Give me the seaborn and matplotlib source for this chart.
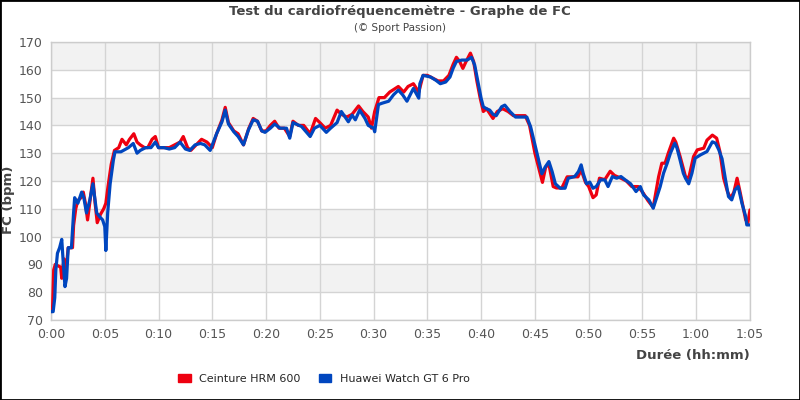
import seaborn as sns
import matplotlib.pyplot as plt
import matplotlib.patches as mpatches
import pandas as pd

# minutes since start, heart rate (bpm)
hrm_t = [0.0, 0.15, 0.25, 0.4, 0.9, 1.0, 1.2, 1.4, 1.6, 2.0, 2.1, 2.3, 2.5, 2.8, 3.0, 3.2, 3.4, 3.6, 3.9, 4.1,
         4.3, 4.6, 4.9, 5.1, 5.3, 5.6, 5.9, 6.3, 6.6, 7.0, 7.3, 7.7, 8.0, 8.3, 8.7, 9.0, 9.4, 9.7, 10.0, 10.5,
         11.0, 11.5, 12.0, 12.3, 12.7, 13.0, 13.5, 14.0, 14.5, 15.0, 15.4, 15.9, 16.2, 16.5, 17.0, 17.4, 17.9,
         18.4, 18.8, 19.2, 19.6, 20.0, 20.4, 20.8, 21.2, 21.7, 22.2, 22.5, 23.0, 23.5, 24.1, 24.6, 25.0, 25.5,
         26.0, 26.6, 27.0, 27.5, 28.0, 28.6, 29.0, 29.5, 29.8, 30.1, 30.5, 31.0, 31.5, 31.9, 32.3, 32.8, 33.2,
         33.7, 34.2, 34.6, 35.0, 35.5, 36.0, 36.5, 37.0, 37.4, 37.7, 38.0, 38.3, 38.6, 39.0, 39.3, 39.6, 39.9,
         40.2, 40.5, 41.1, 41.5, 42.0, 42.5, 43.0, 43.5, 44.1, 44.5, 45.0, 45.4, 45.7, 46.0, 46.3, 46.7, 47.0,
         47.5, 48.0, 48.5, 49.0, 49.3, 49.7, 50.0, 50.4, 50.7, 51.0, 51.5, 52.0, 52.4, 53.0, 53.5, 54.0, 54.6,
         55.1, 55.5, 56.0, 56.5, 56.8, 57.1, 57.4, 57.9, 58.1, 58.5, 59.0, 59.3, 59.75, 60.1, 60.7, 61.0, 61.5,
         61.9, 62.2, 62.55, 62.9, 63.2, 63.5, 63.8, 64.1, 64.6, 64.8, 65.0]
hrm_bpm = [73, 75, 88, 90, 89, 85, 92, 88, 96, 96, 104, 110, 113, 114, 116, 112, 106, 112, 121, 112,
           105, 108, 110, 112, 118, 126, 131, 132, 135, 133, 135, 137, 134, 133, 132, 132, 135, 136, 132, 132,
           132, 133, 134, 136, 132, 131, 133, 135, 134, 132, 137, 142, 146.5, 141, 138, 137, 133,
           139, 142.5, 141.5, 138, 138, 140, 141.5, 139, 139, 136, 141.5, 140, 140, 137, 142.5, 141, 139,
           140, 145.5, 144, 143, 144, 147, 145, 143, 139, 145, 150, 150, 152, 153, 154, 152, 154,
           155, 152, 158, 158, 157, 156, 156, 158, 162, 164.5, 163, 160.5, 163, 166, 163, 156, 150,
           145, 146, 142.5, 145, 146, 145, 143.5, 143.5, 143.5, 140, 130, 124, 119.5, 125, 126, 118, 117.5,
           117.5, 121.5, 121.5, 121.5, 124, 119.5, 118, 114, 115, 121, 120.5, 123.5, 122, 121, 120, 118, 118,
           115.5, 113, 110.5, 121.5, 126.4, 126.4, 130, 135.4, 134, 128.8, 121.6, 121, 128.8, 131.2, 131.8, 134.7, 136.5,
           135.4, 130.6, 121, 116.2, 113.8, 116, 121, 115.6, 106, 105, 109.6]

watch_t = [0.0, 0.2, 0.35, 0.45, 0.6, 0.8, 1.0, 1.15, 1.3, 1.45, 1.6, 1.9, 2.1, 2.2, 2.5, 2.85, 3.05, 3.3, 3.6,
           3.9, 4.25, 4.56, 4.8, 5.0, 5.1, 5.27, 5.5, 5.8, 5.95, 6.5, 7.2, 7.65, 8.0, 8.3, 8.8, 9.3, 9.7, 10.0,
           10.5, 11.0, 11.5, 12.0, 12.5, 12.9, 13.4, 13.9, 14.3, 14.8, 15.4, 15.9, 16.2, 16.5, 17.0, 17.4, 17.9,
           18.35, 18.8, 19.2, 19.6, 19.9, 20.4, 20.8, 21.3, 21.9, 22.2, 22.5, 23.3, 24.1, 24.5, 25.0, 25.6, 26.0,
           26.6, 27.0, 27.65, 28.0, 28.3, 28.7, 29.2, 29.5, 30.0, 30.1, 30.45, 30.8, 31.4, 31.85, 32.3, 32.7,
           33.1, 33.4, 33.7, 34.2, 34.3, 34.6, 35.3, 35.8, 36.2, 36.7, 37.1, 37.4, 37.7, 38.2, 38.7, 39.1, 39.4,
           39.7, 40.0, 40.2, 40.5, 40.8, 41.1, 41.4, 41.9, 42.2, 42.7, 43.2, 44.25, 44.6, 44.9, 45.2, 45.5, 45.65,
           45.95, 46.3, 46.6, 46.9, 47.35, 47.8, 48.1, 48.7, 49.05, 49.3, 49.5, 49.8, 50.1, 50.4, 50.7, 51.1,
           51.5, 51.8, 52.2, 52.6, 53.0, 53.4, 53.9, 54.4, 54.8, 55.1, 55.6, 56.0, 56.35, 56.65, 56.96, 57.3,
           57.6, 58.0, 58.2, 58.5, 58.8, 59.0, 59.3, 59.6, 59.9, 60.4, 61.0, 61.5, 61.8, 62.1, 62.4, 62.7, 63.0,
           63.3, 63.6, 63.9, 64.25, 64.6, 64.7, 65.0]
watch_bpm = [73, 73, 78, 88, 94, 96, 99, 90, 82, 85, 96, 96, 108.5, 114, 112, 116, 114, 108.5, 113,
             119, 108.5, 107, 106, 103.6, 95, 108.5, 119, 127.5, 130.5, 130.5, 132, 133.5, 130, 131, 132, 132, 134, 132,
             132, 131.5, 132, 134, 131.5, 131, 133, 133.5, 133, 131, 137, 141.3, 145.5, 140.5, 137.7, 136, 133,
             138.3, 142, 141.5, 138, 137.5, 139, 140.5, 139, 139, 135.4, 141, 139.6, 136, 139, 140, 137.5, 139,
             141, 145, 141.3, 143.7, 142, 145.5, 142.5, 140, 139, 137.7, 147.5, 148, 148.7, 151, 152.7, 151,
             148.7, 151, 153.3, 149.8, 155, 158, 157.4, 156.2, 155, 155.6, 157.4, 160.6, 163, 163.5, 163.5, 164.5, 161.7,
             155.7, 149.7, 146.7, 146, 145.5, 144, 143.5, 146.7, 147.3, 144.9, 143, 143, 139.5, 134.7, 130, 125, 122.6,
             125, 127, 123.4, 119, 117.4, 117.4, 121, 121.6, 123.4, 125.8, 122.6, 119, 119.6, 117.4, 118, 120.4,
             120.4, 118, 121.6, 121, 121.6, 120.4, 119, 116.2, 118, 115, 113.2, 110.2, 114.4, 118, 122.8, 126.4,
             130, 133.6, 132, 127.5, 122.8, 121, 119, 122.8, 128.2, 129.4, 130.6, 134.1, 133.6, 131.2, 128, 121, 114.4,
             113.2, 116.8, 118, 112, 107.2, 104.2, 104.2]

series_names = ["Ceinture HRM 600", "Huawei Watch GT 6 Pro"]
series_colors = ["#ee0010", "#0046bf"]
x_ticks = list(range(0, 66, 5))
x_labels = ["%d:%02d" % (m // 60, m % 60) for m in x_ticks]

df = pd.concat([
    pd.DataFrame({"t": hrm_t, "bpm": hrm_bpm, "device": series_names[0]}),
    pd.DataFrame({"t": watch_t, "bpm": watch_bpm, "device": series_names[1]}),
])

sns.set_style("white")
plt.rcParams["font.family"] = ["DejaVu Sans"]

fig = plt.figure(figsize=(8, 4), dpi=100)
ax = fig.add_axes([51 / 800, 80 / 400, 699 / 800, 278 / 400])

# alternating horizontal bands
for lo in range(80, 170, 20):
    ax.axhspan(lo, lo + 10, color="#f2f2f2", zorder=0, lw=0)

sns.lineplot(data=df, x="t", y="bpm", hue="device", palette=series_colors,
             hue_order=series_names, linewidth=2.3, legend=False, ax=ax, zorder=3)

ax.set_xlim(0, 65)
ax.set_ylim(70, 170)
ax.set_xticks(x_ticks)
ax.set_xticklabels(x_labels)
ax.set_yticks(range(70, 171, 10))
ax.grid(True, color="#d4d4d4", linewidth=1, zorder=1)
ax.set_axisbelow(True)
ax.tick_params(colors="#555555", labelsize=9, length=0, pad=6)
for s in ax.spines.values():
    s.set_color("#cccccc")
    s.set_linewidth(1)

ax.set_xlabel("Durée (hh:mm)", fontsize=9.5, fontweight="bold", color="#444444")
ax.xaxis.set_label_coords(1.0, -0.105)
ax.xaxis.label.set_horizontalalignment("right")
ax.set_ylabel("")
fig.text(9 / 800, 0.5, "FC (bpm)", rotation=90, ha="center", va="center",
         fontsize=9.5, fontweight="bold", color="#444444")

fig.text(0.5, 0.972, "Test du cardiofréquencemètre - Graphe de FC", ha="center", va="center",
         fontsize=9.5, fontweight="bold", color="#444444")
fig.text(0.5, 0.93, "(© Sport Passion)", ha="center", va="center", fontsize=7.5, color="#444444")

handles = [mpatches.FancyBboxPatch((0, 0), 1, 1, boxstyle="round,pad=0.1", color=c) for c in series_colors]
fig.legend(handles, series_names, loc="center", bbox_to_anchor=(0.405, 0.053), ncol=2, frameon=False,
           fontsize=8, handlelength=1.1, handleheight=0.7, handletextpad=0.8, columnspacing=1.6)

fig.patches.append(mpatches.Rectangle((0, 0), 1, 1, transform=fig.transFigure, fill=False,
                                      edgecolor="black", linewidth=2))

fig.savefig("out.png", dpi=100)
